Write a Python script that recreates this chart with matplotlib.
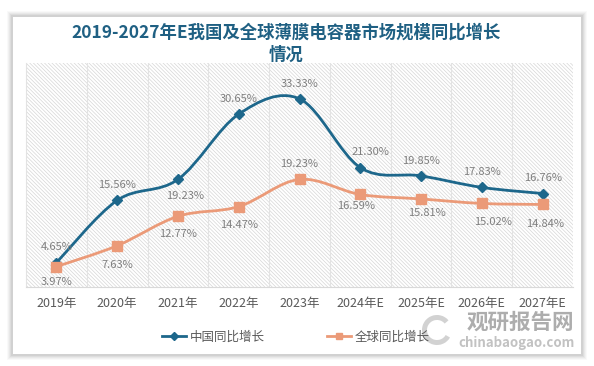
import numpy as np
import matplotlib
matplotlib.use("Agg")
import matplotlib.pyplot as plt
from matplotlib.path import Path
from matplotlib.patches import PathPatch, Rectangle, Wedge

plt.rcParams['font.family'] = ['Noto Sans CJK SC', 'DejaVu Sans']
plt.rcParams['hatch.linewidth'] = 0.5
plt.rcParams['hatch.color'] = '#d6d6d6'

# 数据
years = ['2019年', '2020年', '2021年', '2022年', '2023年',
         '2024年E', '2025年E', '2026年E', '2027年E']
china = [4.65, 15.56, 19.23, 30.65, 33.33, 21.30, 19.85, 17.83, 16.76]
world = [3.97, 7.63, 12.77, 14.47, 19.23, 16.59, 15.81, 15.02, 14.84]

# 标签偏移 (points)
china_off = [(0, 11), (0, 11), (5, -12), (0, 11), (0, 11), (7, 11), (0, 11), (0, 11), (0, 11)]
world_off = [(0, -11), (0, -14), (0, -13), (0, -13), (0, 11), (-3, -8), (4, -10), (8, -13), (2, -14)]

C_CHINA = '#1d678b'
C_WORLD = '#eb9a78'


def smooth_path(xs, ys):
    # Excel 风格平滑曲线 (Catmull-Rom -> Bezier)
    pts = np.column_stack([xs, ys]).astype(float)
    n = len(pts)
    verts = [pts[0]]
    codes = [Path.MOVETO]
    for i in range(n - 1):
        p0 = pts[max(i - 1, 0)]
        p1 = pts[i]
        p2 = pts[i + 1]
        p3 = pts[min(i + 2, n - 1)]
        c1 = p1 + (p2 - p0) / 6.0
        c2 = p2 - (p3 - p1) / 6.0
        verts += [c1, c2, p2]
        codes += [Path.CURVE4] * 3
    return Path(verts, codes)


fig = plt.figure(figsize=(5.94, 3.66), dpi=100)
fig.patch.set_facecolor('white')

# 卡片阴影与背景
W, H = 594, 366
for k, a in enumerate([0.025, 0.03, 0.035, 0.045, 0.05]):
    d = 6 - k
    fig.patches.append(Rectangle(((13 - d) / W, (12 - d) / H), (568 + 2 * d) / W, (337 + 2 * d) / H,
                                 transform=fig.transFigure, facecolor='#000000', alpha=a,
                                 edgecolor='none', zorder=-20))
fig.patches.append(Rectangle((13 / W, 12 / H), 568 / W, 337 / H, transform=fig.transFigure,
                             facecolor='white', edgecolor='none', zorder=-10))

ax = fig.add_axes([26 / W, 1 - 287 / H, 547 / W, 224 / H])
ax.set_facecolor('white')
ax.add_patch(Rectangle((0, 0), 1, 1, transform=ax.transAxes, facecolor='none',
                       hatch='\\' * 9, edgecolor='#d6d6d6', linewidth=0, zorder=0))

x = np.arange(len(years))
ax.set_xlim(-0.5, len(years) - 0.5)
ax.set_ylim(0.4, 39.6)

for b in np.arange(0.5, len(years) - 0.5, 1):
    ax.axvline(b, color='#e3e3e3', linewidth=0.8, zorder=1)

ax.add_patch(PathPatch(smooth_path(x, china), facecolor='none', edgecolor=C_CHINA,
                       linewidth=2, zorder=3))
ax.add_patch(PathPatch(smooth_path(x, world), facecolor='none', edgecolor=C_WORLD,
                       linewidth=2, zorder=3))
ax.plot(x, china, linestyle='none', marker='D', markersize=5.5, color=C_CHINA, zorder=4)
ax.plot(x, world, linestyle='none', marker='s', markersize=7, color=C_WORLD, zorder=4)

for i in range(len(years)):
    ax.annotate(f'{china[i]:.2f}%', (x[i], china[i]), xytext=china_off[i],
                textcoords='offset points', ha='center', va='center',
                fontsize=8, color='#7f7f7f', zorder=5)
    ax.annotate(f'{world[i]:.2f}%', (x[i], world[i]), xytext=world_off[i],
                textcoords='offset points', ha='center', va='center',
                fontsize=8, color='#7f7f7f', zorder=5)

ax.set_xticks(x)
ax.set_xticklabels(years, fontsize=9, color='#595959')
ax.set_yticks([])
ax.tick_params(axis='x', length=0, pad=7)
for s in ['top', 'right']:
    ax.spines[s].set_visible(False)
ax.spines['left'].set_color('#e3e3e3')
ax.spines['bottom'].set_color('#d9d9d9')

fig.text(286 / W, 1 - 33 / H, '2019-2027年E我国及全球薄膜电容器市场规模同比增长',
         ha='center', va='center', fontsize=12.5, fontweight='bold', color='#1f6083')
fig.text(286 / W, 1 - 55 / H, '情况', ha='center', va='center', fontsize=12.5,
         fontweight='bold', color='#1f6083')

# 图例
h1, = ax.plot([], [], color=C_CHINA, linewidth=2, marker='D', markersize=4)
h2, = ax.plot([], [], color=C_WORLD, linewidth=2, marker='s', markersize=5)
fig.legend([h1, h2], ['中国同比增长', '全球同比增长'], loc='center',
           bbox_to_anchor=(296 / W, 1 - 337 / H), ncol=2, frameon=False,
           fontsize=9, labelcolor='#595959', handlelength=1.9, columnspacing=5,
           handletextpad=0.3)

# 水印
fig.patches.append(Wedge((437 / W * 5.94, (1 - 330 / H) * 3.66), 0.15, 40, 330, width=0.05,
                         transform=fig.dpi_scale_trans, facecolor='#b5b5b5', alpha=0.6,
                         edgecolor='none', zorder=5))
fig.text(520 / W, 1 - 322 / H, '观研报告网', ha='center', va='center', fontsize=15.5,
         fontweight='bold', color='#8a8a8a', alpha=0.7)
fig.text(517 / W, 1 - 343 / H, 'chinabaogao.com', ha='center', va='center', fontsize=9.5,
         fontweight='bold', color='#9a9a9a', alpha=0.6)

fig.savefig('out.png', dpi=100)
